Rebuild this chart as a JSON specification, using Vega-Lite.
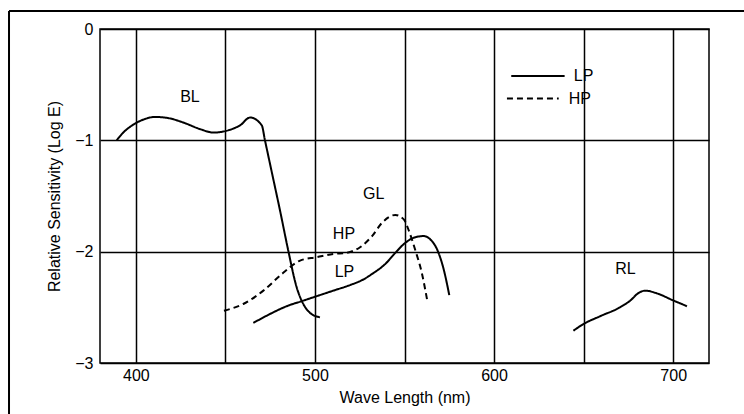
{
  "$schema": "https://vega.github.io/schema/vega-lite/v6.json",
  "width": 609,
  "height": 334,
  "autosize": {"type": "none"},
  "padding": {"left": 100, "top": 29, "right": 35, "bottom": 51},
  "background": "white",
  "config": {
    "view": {"stroke": "black", "strokeWidth": 1.5},
    "font": "Liberation Sans",
    "axis": {
      "grid": true, "gridColor": "black", "gridOpacity": 1, "gridWidth": 1.5,
      "domain": false, "ticks": false,
      "labelFont": "Liberation Sans", "labelFontSize": 16, "labelColor": "black",
      "titleFont": "Liberation Sans", "titleFontSize": 16, "titleFontWeight": "normal", "titleColor": "black"
    }
  },
  "datasets": {
    "curves": [
      {"series": "BL", "process": "LP", "wl": 389.3, "s": -1.0},
      {"series": "BL", "process": "LP", "wl": 393, "s": -0.93},
      {"series": "BL", "process": "LP", "wl": 398, "s": -0.865},
      {"series": "BL", "process": "LP", "wl": 404, "s": -0.815},
      {"series": "BL", "process": "LP", "wl": 410.7, "s": -0.79},
      {"series": "BL", "process": "LP", "wl": 418, "s": -0.80},
      {"series": "BL", "process": "LP", "wl": 426.5, "s": -0.84},
      {"series": "BL", "process": "LP", "wl": 436, "s": -0.9},
      {"series": "BL", "process": "LP", "wl": 443.3, "s": -0.93},
      {"series": "BL", "process": "LP", "wl": 452.6, "s": -0.905},
      {"series": "BL", "process": "LP", "wl": 458.2, "s": -0.865},
      {"series": "BL", "process": "LP", "wl": 463.8, "s": -0.795},
      {"series": "BL", "process": "LP", "wl": 470.3, "s": -0.865},
      {"series": "BL", "process": "LP", "wl": 472.1, "s": -1.0},
      {"series": "BL", "process": "LP", "wl": 476.5, "s": -1.33},
      {"series": "BL", "process": "LP", "wl": 480.5, "s": -1.63},
      {"series": "BL", "process": "LP", "wl": 485.1, "s": -1.99},
      {"series": "BL", "process": "LP", "wl": 489.8, "s": -2.32},
      {"series": "BL", "process": "LP", "wl": 493.5, "s": -2.47},
      {"series": "BL", "process": "LP", "wl": 497.3, "s": -2.55},
      {"series": "BL", "process": "LP", "wl": 502.8, "s": -2.59},
      {"series": "GL-HP", "process": "HP", "wl": 449.2, "s": -2.53},
      {"series": "GL-HP", "process": "HP", "wl": 460.0, "s": -2.47},
      {"series": "GL-HP", "process": "HP", "wl": 471.2, "s": -2.35},
      {"series": "GL-HP", "process": "HP", "wl": 482.3, "s": -2.19},
      {"series": "GL-HP", "process": "HP", "wl": 491.7, "s": -2.08},
      {"series": "GL-HP", "process": "HP", "wl": 501.0, "s": -2.05},
      {"series": "GL-HP", "process": "HP", "wl": 510.3, "s": -2.02},
      {"series": "GL-HP", "process": "HP", "wl": 517.7, "s": -2.01},
      {"series": "GL-HP", "process": "HP", "wl": 525.2, "s": -1.96},
      {"series": "GL-HP", "process": "HP", "wl": 531.9, "s": -1.86},
      {"series": "GL-HP", "process": "HP", "wl": 537.5, "s": -1.74},
      {"series": "GL-HP", "process": "HP", "wl": 544.9, "s": -1.67},
      {"series": "GL-HP", "process": "HP", "wl": 549.6, "s": -1.71},
      {"series": "GL-HP", "process": "HP", "wl": 552.4, "s": -1.81},
      {"series": "GL-HP", "process": "HP", "wl": 556.1, "s": -1.99},
      {"series": "GL-HP", "process": "HP", "wl": 559.8, "s": -2.2},
      {"series": "GL-HP", "process": "HP", "wl": 562.6, "s": -2.43},
      {"series": "GL-LP", "process": "LP", "wl": 465.6, "s": -2.64},
      {"series": "GL-LP", "process": "LP", "wl": 474.9, "s": -2.56},
      {"series": "GL-LP", "process": "LP", "wl": 484.2, "s": -2.49},
      {"series": "GL-LP", "process": "LP", "wl": 493.5, "s": -2.44},
      {"series": "GL-LP", "process": "LP", "wl": 502.8, "s": -2.39},
      {"series": "GL-LP", "process": "LP", "wl": 510.3, "s": -2.35},
      {"series": "GL-LP", "process": "LP", "wl": 519.6, "s": -2.3},
      {"series": "GL-LP", "process": "LP", "wl": 527.0, "s": -2.25},
      {"series": "GL-LP", "process": "LP", "wl": 531.9, "s": -2.2},
      {"series": "GL-LP", "process": "LP", "wl": 539.3, "s": -2.11},
      {"series": "GL-LP", "process": "LP", "wl": 544.9, "s": -2.01},
      {"series": "GL-LP", "process": "LP", "wl": 550.5, "s": -1.92},
      {"series": "GL-LP", "process": "LP", "wl": 556.1, "s": -1.87},
      {"series": "GL-LP", "process": "LP", "wl": 560.7, "s": -1.86},
      {"series": "GL-LP", "process": "LP", "wl": 564.4, "s": -1.89},
      {"series": "GL-LP", "process": "LP", "wl": 568.2, "s": -1.98},
      {"series": "GL-LP", "process": "LP", "wl": 571.9, "s": -2.16},
      {"series": "GL-LP", "process": "LP", "wl": 575.0, "s": -2.39},
      {"series": "RL", "process": "LP", "wl": 644.3, "s": -2.71},
      {"series": "RL", "process": "LP", "wl": 649.9, "s": -2.65},
      {"series": "RL", "process": "LP", "wl": 659.2, "s": -2.58},
      {"series": "RL", "process": "LP", "wl": 670.3, "s": -2.5},
      {"series": "RL", "process": "LP", "wl": 676.0, "s": -2.44},
      {"series": "RL", "process": "LP", "wl": 680.8, "s": -2.37},
      {"series": "RL", "process": "LP", "wl": 684.5, "s": -2.35},
      {"series": "RL", "process": "LP", "wl": 690.1, "s": -2.37},
      {"series": "RL", "process": "LP", "wl": 700.3, "s": -2.44},
      {"series": "RL", "process": "LP", "wl": 707.7, "s": -2.49},
      {"series": "key-LP", "process": "LP", "wl": 609.6, "s": -0.423},
      {"series": "key-LP", "process": "LP", "wl": 639.4, "s": -0.423},
      {"series": "key-HP", "process": "HP", "wl": 607.2, "s": -0.625},
      {"series": "key-HP", "process": "HP", "wl": 636.1, "s": -0.625}
    ],
    "labels": [
      {"text": "BL", "wl": 430.2, "s": -0.61},
      {"text": "GL", "wl": 532.8, "s": -1.48},
      {"text": "HP", "wl": 516.2, "s": -1.84},
      {"text": "LP", "wl": 516.5, "s": -2.18},
      {"text": "RL", "wl": 673.3, "s": -2.16}
    ],
    "keytext": [
      {"text": "LP", "wl": 644.5, "s": -0.423},
      {"text": "HP", "wl": 641.7, "s": -0.625}
    ],
    "frame": [
      {"part": "top", "x1": 329.2, "x2": 800, "y1": 0.162, "y2": 0.162},
      {"part": "left", "x1": 329.2, "x2": 329.2, "y1": 0.162, "y2": -4}
    ]
  },
  "encoding": {
    "x": {
      "field": "wl", "type": "quantitative",
      "scale": {"domain": [380, 720], "nice": false, "zero": false},
      "axis": {
        "values": [400, 450, 500, 550, 600, 650, 700],
        "labelExpr": "datum.value % 100 === 0 ? datum.label : ''",
        "labelPadding": 4, "title": "Wave Length (nm)", "titlePadding": 6
      }
    },
    "y": {
      "field": "s", "type": "quantitative",
      "scale": {"domain": [-3, 0], "nice": false, "zero": false},
      "axis": {
        "values": [0, -1, -2, -3],
        "labelPadding": 7, "title": "Relative Sensitivity (Log E)", "titlePadding": 12
      }
    }
  },
  "layer": [
    {
      "data": {"name": "curves"},
      "mark": {"type": "line", "color": "black", "strokeWidth": 2, "interpolate": "monotone"},
      "encoding": {
        "detail": {"field": "series"},
        "strokeDash": {
          "field": "process", "type": "nominal",
          "scale": {"domain": ["LP", "HP"], "range": [[1, 0], [6, 4]]},
          "legend": null
        }
      }
    },
    {
      "data": {"name": "labels"},
      "mark": {"type": "text", "fontSize": 16, "color": "black", "font": "Liberation Sans"},
      "encoding": {"text": {"field": "text"}}
    },
    {
      "data": {"name": "keytext"},
      "mark": {"type": "text", "fontSize": 16, "color": "black", "align": "left", "font": "Liberation Sans"},
      "encoding": {"text": {"field": "text"}}
    },
    {
      "data": {"name": "frame"},
      "mark": {"type": "rule", "color": "black", "strokeWidth": 2},
      "encoding": {
        "x": {"field": "x1", "type": "quantitative"},
        "x2": {"field": "x2"},
        "y": {"field": "y1", "type": "quantitative"},
        "y2": {"field": "y2"}
      }
    }
  ]
}
